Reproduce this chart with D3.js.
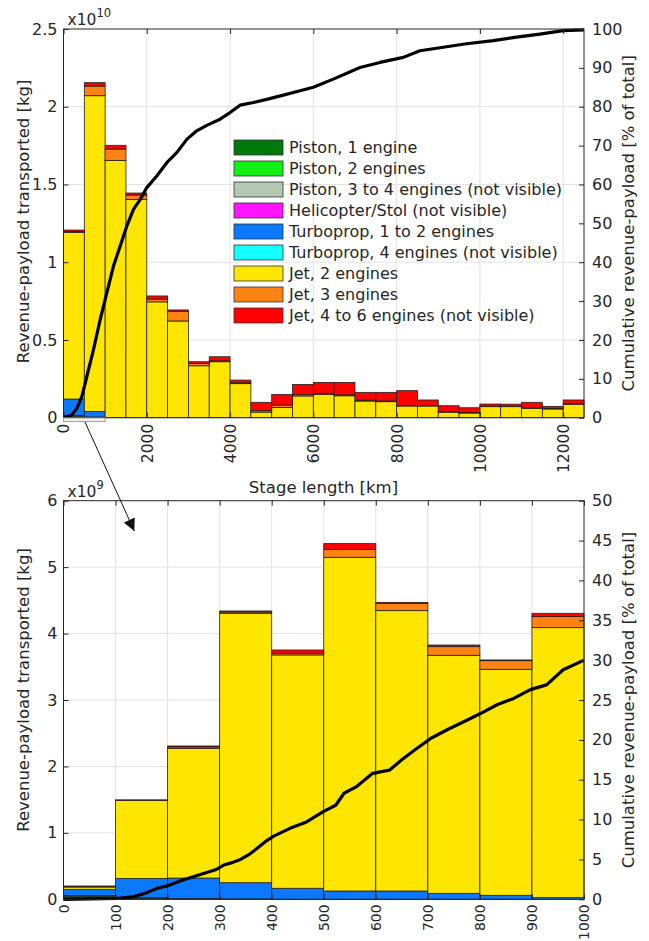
<!DOCTYPE html>
<html>
<head>
<meta charset="utf-8">
<script src="https://cdn.jsdelivr.net/npm/d3@7"></script>
<style>
  body { margin: 0; background: #fff; }
  svg { font-family: "DejaVu Sans", Verdana, sans-serif; }
</style>
</head>
<body>
<svg id="chart" width="649" height="941"></svg>
<script>
// aircraft categories (stack order, bottom to top)
const categories = ['p1', 'p2', 'p34', 'heli', 'tp12', 'tp4', 'jet2', 'jet3', 'jet46'];
const categoryLabels = [
  'Piston, 1 engine',
  'Piston, 2 engines',
  'Piston, 3 to 4 engines (not visible)',
  'Helicopter/Stol (not visible)',
  'Turboprop, 1 to 2 engines',
  'Turboprop, 4 engines (not visible)',
  'Jet, 2 engines',
  'Jet, 3 engines',
  'Jet, 4 to 6 engines (not visible)'
];
const categoryColors = ['#00780a', '#14f014', '#b4c8b4', '#ff14ff', '#0a78ff', '#14ffff', '#ffe600', '#ff8214', '#ff0000'];

// top panel: 500 km bins, values in 1e10 kg
const topBinStart = [0, 500, 1000, 1500, 2000, 2500, 3000, 3500, 4000, 4500, 5000, 5500,
  6000, 6500, 7000, 7500, 8000, 8500, 9000, 9500, 10000, 10500, 11000, 11500, 12000];
const topBinWidth = 500;
const topP1 =   [0.010, 0.005, 0, 0, 0, 0, 0, 0, 0, 0, 0, 0, 0, 0, 0, 0, 0, 0, 0, 0, 0, 0, 0, 0, 0];
const topP2 =   [0.005, 0, 0, 0, 0, 0, 0, 0, 0, 0, 0, 0, 0, 0, 0, 0, 0, 0, 0, 0, 0, 0, 0, 0, 0];
const topP34 =  [0, 0, 0, 0, 0, 0, 0, 0, 0, 0, 0, 0, 0, 0, 0, 0, 0, 0, 0, 0, 0, 0, 0, 0, 0];
const topHeli = [0, 0, 0, 0, 0, 0, 0, 0, 0, 0, 0, 0, 0, 0, 0, 0, 0, 0, 0, 0, 0, 0, 0, 0, 0];
const topTp12 = [0.105, 0.035, 0, 0, 0, 0, 0, 0, 0, 0, 0, 0, 0, 0, 0, 0, 0, 0, 0, 0, 0, 0, 0, 0, 0];
const topTp4 =  [0, 0, 0, 0, 0, 0, 0, 0, 0, 0, 0, 0, 0, 0, 0, 0, 0, 0, 0, 0, 0, 0, 0, 0, 0];
const topJet2 = [1.072, 2.031, 1.655, 1.404, 0.745, 0.622, 0.334, 0.360, 0.219, 0.036, 0.066, 0.140,
  0.150, 0.141, 0.107, 0.103, 0.075, 0.075, 0.035, 0.030, 0.071, 0.071, 0.060, 0.056, 0.086];
const topJet3 = [0.005, 0.062, 0.073, 0.028, 0.018, 0.063, 0.015, 0.006, 0.006, 0.009, 0.015, 0.008,
  0.007, 0.006, 0.006, 0.005, 0.004, 0.004, 0.004, 0.003, 0.003, 0.003, 0.003, 0.003, 0.005];
const topJet46 = [0.010, 0.022, 0.024, 0.013, 0.020, 0.008, 0.011, 0.026, 0.017, 0.054, 0.069, 0.066,
  0.070, 0.080, 0.050, 0.055, 0.095, 0.035, 0.038, 0.031, 0.014, 0.013, 0.036, 0.014, 0.023];

// top panel cumulative curve (km, % of total)
const topCumKm =  [0, 200, 320, 440, 560, 720, 880, 1040, 1200, 1360, 1520, 1680, 1840, 2000, 2240, 2480,
  2720, 2960, 3200, 3440, 3760, 4000, 4240, 4560, 4880, 5280, 5680, 6000, 6480, 7120, 7600, 8160, 8560,
  9120, 9680, 10320, 10880, 11440, 12000, 12500];
const topCumPct = [0, 0.7, 2.4, 5.4, 10.6, 17.5, 25.2, 32.1, 39.0, 44.1, 49.3, 53.6, 56.1, 59.2, 62.2, 65.6,
  68.2, 71.6, 73.8, 75.2, 76.8, 78.5, 80.4, 81.1, 81.9, 83.0, 84.1, 85.0, 87.1, 90.1, 91.4, 92.7, 94.4,
  95.3, 96.2, 97.0, 97.9, 98.7, 99.6, 99.8];

// bottom panel: 100 km bins, values in 1e9 kg
const botBinStart = [0, 100, 200, 300, 400, 500, 600, 700, 800, 900];
const botBinWidth = 100;
const botP1 =   [0.025, 0.020, 0.010, 0.005, 0, 0, 0, 0, 0, 0];
const botP2 =   [0.020, 0.005, 0, 0, 0, 0, 0, 0, 0, 0];
const botP34 =  [0.010, 0, 0, 0, 0, 0, 0, 0, 0, 0];
const botHeli = [0, 0, 0, 0, 0, 0, 0, 0, 0, 0];
const botTp12 = [0.095, 0.290, 0.310, 0.245, 0.166, 0.125, 0.125, 0.090, 0.060, 0.025];
const botTp4 =  [0, 0, 0, 0, 0, 0, 0, 0, 0, 0];
const botJet2 = [0.035, 1.175, 1.953, 4.055, 3.512, 5.023, 4.220, 3.583, 3.402, 4.064];
const botJet3 = [0.010, 0.003, 0.020, 0.020, 0.022, 0.120, 0.110, 0.130, 0.130, 0.166];
const botJet46 = [0.005, 0.002, 0.015, 0.015, 0.053, 0.086, 0.015, 0.025, 0.011, 0.050];

const botCumKm =  [0, 101, 133, 157, 181, 200, 228, 260, 292, 308, 324, 340, 356, 372, 387, 403, 435, 467,
  499, 523, 539, 562, 594, 626, 650, 674, 706, 738, 770, 801, 833, 865, 897, 928, 960, 1000];
const botCumPct = [0, 0.1, 0.3, 0.75, 1.4, 1.7, 2.4, 3.05, 3.7, 4.3, 4.6, 5.0, 5.6, 6.4, 7.2, 7.9, 8.9, 9.7,
  11.0, 11.8, 13.3, 14.1, 15.8, 16.2, 17.5, 18.7, 20.2, 21.3, 22.3, 23.3, 24.4, 25.2, 26.3, 26.9, 28.8, 30.0];

const axisColor = '#262626';
const gridColor = '#e3e3e3';
const svg = d3.select('#chart');

function buildRows(binStart, series) {
  return binStart.map((s, i) => {
    const row = { start: s };
    categories.forEach((c, k) => { row[c] = series[k][i]; });
    return row;
  });
}

function drawPanel(cfg) {
  const { left, right, top, bottom } = cfg;
  const g = svg.append('g');

  const x = d3.scaleLinear().domain(cfg.xDomain).range([left, right]);
  const y = d3.scaleLinear().domain(cfg.yDomain).range([bottom, top]);
  const y2 = d3.scaleLinear().domain(cfg.y2Domain).range([bottom, top]);

  // grid
  g.append('g').selectAll('line').data(cfg.xTicks.filter(t => t > cfg.xDomain[0] && t < cfg.xDomain[1]))
    .join('line')
    .attr('x1', d => x(d)).attr('x2', d => x(d))
    .attr('y1', top).attr('y2', bottom)
    .attr('stroke', gridColor).attr('stroke-width', 1);
  g.append('g').selectAll('line').data(cfg.yTicks.filter(t => t > cfg.yDomain[0] && t < cfg.yDomain[1]))
    .join('line')
    .attr('x1', left).attr('x2', right)
    .attr('y1', d => y(d)).attr('y2', d => y(d))
    .attr('stroke', gridColor).attr('stroke-width', 1);

  // stacked bars
  const rows = buildRows(cfg.binStart, cfg.series);
  const stacked = d3.stack().keys(categories)(rows);
  stacked.forEach((layer, k) => {
    g.append('g').selectAll('rect')
      .data(layer.filter(d => d[1] - d[0] > 0))
      .join('rect')
      .attr('x', d => x(d.data.start))
      .attr('width', d => x(d.data.start + cfg.binWidth) - x(d.data.start))
      .attr('y', d => y(d[1]))
      .attr('height', d => y(d[0]) - y(d[1]))
      .attr('fill', categoryColors[k])
      .attr('stroke', '#222')
      .attr('stroke-width', 0.8);
  });

  // cumulative curve
  const line = d3.line().x(d => x(d[0])).y(d => y2(d[1]));
  g.append('path')
    .datum(cfg.cumKm.map((k, i) => [k, cfg.cumPct[i]]))
    .attr('d', line)
    .attr('fill', 'none')
    .attr('stroke', '#000')
    .attr('stroke-width', 3.2)
    .attr('stroke-linejoin', 'round');

  // box
  g.append('rect')
    .attr('x', left).attr('y', top)
    .attr('width', right - left).attr('height', bottom - top)
    .attr('fill', 'none').attr('stroke', axisColor).attr('stroke-width', 1);

  // axes (MATLAB-style inward ticks)
  const tl = 5;
  const xb = g.append('g').attr('transform', `translate(0,${bottom})`)
    .call(d3.axisBottom(x).tickValues(cfg.xTicks).tickSizeInner(-tl).tickSizeOuter(0).tickFormat(d3.format('d')));
  const xt = g.append('g').attr('transform', `translate(0,${top})`)
    .call(d3.axisTop(x).tickValues(cfg.xTicks).tickSizeInner(-tl).tickSizeOuter(0).tickFormat(''));
  const yl = g.append('g').attr('transform', `translate(${left},0)`)
    .call(d3.axisLeft(y).tickValues(cfg.yTicks).tickSizeInner(-tl).tickSizeOuter(0).tickFormat(cfg.yFormat));
  const yr = g.append('g').attr('transform', `translate(${right},0)`)
    .call(d3.axisRight(y2).tickValues(cfg.y2Ticks).tickSizeInner(-tl).tickSizeOuter(0).tickFormat(d3.format('d')));

  [xb, xt, yl, yr].forEach(a => {
    a.select('.domain').remove();
    a.selectAll('line').attr('stroke', axisColor);
    a.selectAll('text').attr('fill', axisColor).attr('font-size', 16).attr('font-family', '"DejaVu Sans", sans-serif');
  });
  yl.selectAll('text').attr('x', -6);
  yr.selectAll('text').attr('x', 8);
  xb.selectAll('text')
    .attr('font-size', cfg.xTickSize)
    .attr('transform', 'rotate(-90)')
    .attr('text-anchor', 'end')
    .attr('x', -cfg.xLabelGap).attr('y', 0).attr('dy', '0.35em');

  // exponent marker
  const ex = g.append('text')
    .attr('x', left + 4).attr('y', top - 4)
    .attr('fill', axisColor).attr('font-size', 15.5);
  ex.append('tspan').text('x10');
  ex.append('tspan').attr('font-size', 11.5).attr('dy', -8).text(cfg.exponent);

  // axis titles
  g.append('text')
    .attr('transform', `translate(${cfg.leftTitleX},${(top + bottom) / 2 + cfg.leftTitleShift}) rotate(-90)`)
    .attr('text-anchor', 'middle').attr('dy', '0.35em')
    .attr('fill', axisColor).attr('font-size', 16.5)
    .text('Revenue-payload transported [kg]');
  g.append('text')
    .attr('transform', `translate(${cfg.rightTitleX},${(top + bottom) / 2}) rotate(-90)`)
    .attr('text-anchor', 'middle').attr('dy', '0.35em')
    .attr('fill', axisColor).attr('font-size', 16.5)
    .text('Cumulative revenue-payload [% of total]');

  return { x, y, y2, g };
}

const topPanel = drawPanel({
  left: 63.5, right: 584, top: 29, bottom: 417.7,
  xDomain: [0, 12500], yDomain: [0, 2.5], y2Domain: [0, 100],
  xTicks: [0, 2000, 4000, 6000, 8000, 10000, 12000],
  yTicks: [0, 0.5, 1, 1.5, 2, 2.5],
  y2Ticks: [0, 10, 20, 30, 40, 50, 60, 70, 80, 90, 100],
  yFormat: d => String(d),
  binStart: topBinStart, binWidth: topBinWidth,
  series: [topP1, topP2, topP34, topHeli, topTp12, topTp4, topJet2, topJet3, topJet46],
  cumKm: topCumKm, cumPct: topCumPct,
  exponent: '10', xLabelGap: 6, xTickSize: 15.5,
  leftTitleX: 23, leftTitleShift: -2, rightTitleX: 628
});

const botPanel = drawPanel({
  left: 63.5, right: 584, top: 500.7, bottom: 899.3,
  xDomain: [0, 1000], yDomain: [0, 6], y2Domain: [0, 50],
  xTicks: [0, 100, 200, 300, 400, 500, 600, 700, 800, 900, 1000],
  yTicks: [0, 1, 2, 3, 4, 5, 6],
  y2Ticks: [0, 5, 10, 15, 20, 25, 30, 35, 40, 45, 50],
  yFormat: d3.format('d'),
  binStart: botBinStart, binWidth: botBinWidth,
  series: [botP1, botP2, botP34, botHeli, botTp12, botTp4, botJet2, botJet3, botJet46],
  cumKm: botCumKm, cumPct: botCumPct,
  exponent: '9', xLabelGap: 5, xTickSize: 14,
  leftTitleX: 23, leftTitleShift: -10, rightTitleX: 628
});

// x axis title between the panels
svg.append('text')
  .attr('x', 323.5).attr('y', 493)
  .attr('text-anchor', 'middle')
  .attr('fill', axisColor).attr('font-size', 16.5)
  .text('Stage length [km]');

// legend (top panel)
const legend = svg.append('g').attr('transform', 'translate(234,140)');
categoryLabels.forEach((label, i) => {
  const row = legend.append('g').attr('transform', `translate(0,${i * 21})`);
  row.append('rect')
    .attr('width', 49).attr('height', 15)
    .attr('fill', categoryColors[i])
    .attr('stroke', '#333').attr('stroke-width', 0.8);
  row.append('text')
    .attr('x', 55).attr('y', 7.5).attr('dy', '0.35em')
    .attr('fill', axisColor).attr('font-size', 16)
    .text(label);
});

// zoom marker: 0-1000 km box under the top axis, arrow to the lower panel
const tx = topPanel.x;
svg.append('rect')
  .attr('x', tx(0)).attr('y', 418)
  .attr('width', tx(1000) - tx(0)).attr('height', 3.5)
  .attr('fill', '#f2f2f2').attr('stroke', '#a0a0a0').attr('stroke-width', 1);

svg.append('defs').append('marker')
  .attr('id', 'arrowhead')
  .attr('viewBox', '0 0 10 10')
  .attr('refX', 10).attr('refY', 5)
  .attr('markerWidth', 14).attr('markerHeight', 12)
  .attr('markerUnits', 'userSpaceOnUse')
  .attr('orient', 'auto')
  .append('path').attr('d', 'M0,0 L10,5 L0,10 Z').attr('fill', '#111');

svg.append('line')
  .attr('x1', 85).attr('y1', 422)
  .attr('x2', botPanel.x(136)).attr('y2', 531)
  .attr('stroke', '#111').attr('stroke-width', 1)
  .attr('marker-end', 'url(#arrowhead)');
</script>
</body>
</html>
